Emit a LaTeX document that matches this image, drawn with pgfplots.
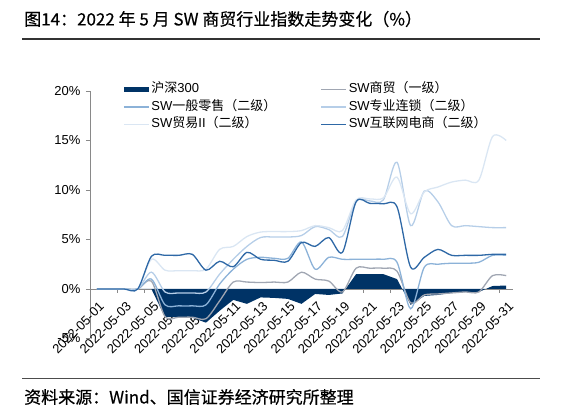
\documentclass[border=0pt]{standalone}
\usepackage{pgfplots}
\usepackage{pgfplotstable}
\pgfplotsset{compat=1.18}
\usepackage{fontspec}
\setmainfont{Liberation Sans}
\newfontfamily\cjk{Noto Sans CJK SC}
\newfontfamily\cjkh[FakeBold=0.4]{Noto Sans CJK SC}

\definecolor{hs}{RGB}{0,51,102}
\definecolor{sm}{RGB}{160,166,178}
\definecolor{yb}{RGB}{140,178,216}
\definecolor{zy}{RGB}{182,206,232}
\definecolor{my}{RGB}{218,230,243}
\definecolor{hl}{RGB}{46,104,166}
\definecolor{axg}{RGB}{137,137,137}

% cumulative change since 2022-04-29, % ; day = day of May
% hs: CSI 300, sm: SW commerce (L1), yb: general retail, zy: specialty chains,
% my: trade II, hl: internet e-commerce
\pgfplotstableread{
day hs sm yb zy my hl
1 0 0 0 0 0 0
2 0 0 0 0 0 0
3 0 0 0 0 0 0
4 0 0 0 0 0 0
5 0 0.8 1.0 1.7 3.0 3.3
6 -2.85 -2.8 -1.6 -0.3 1.9 3.4
7 -2.85 -2.85 -1.7 -0.4 1.85 3.4
8 -2.9 -2.85 -1.7 -0.4 1.85 3.5
9 -3.4 -3.0 -1.6 -0.3 2.0 1.9
10 -2.2 -1.2 0.5 1.5 4.0 2.8
11 -1.1 0.7 2.0 3.0 4.3 2.25
12 -1.5 0.7 3.0 4.3 5.3 3.7
13 -0.85 0.65 3.2 5.2 5.75 3.0
14 -0.9 0.7 3.1 5.25 5.8 2.9
15 -1.0 0.7 3.1 5.25 5.8 2.8
16 -1.5 1.7 4.75 5.4 5.9 4.7
17 -0.5 1.0 2.0 6.3 6.4 4.3
18 -0.6 0.8 3.2 6.0 6.2 5.2
19 -0.45 -0.3 3.0 5.3 5.9 3.7
20 1.5 2.1 3.0 8.9 9.0 8.8
21 1.5 2.1 3.0 8.9 9.1 8.65
22 1.5 2.1 3.0 9.0 9.2 8.6
23 1.0 1.8 2.7 12.8 11.3 8.3
24 -1.6 -1.4 -2.0 6.4 7.6 2.2
25 -0.7 -0.6 2.2 9.9 9.8 3.2
26 -0.6 -0.5 2.5 8.8 10.3 4.0
27 -0.4 -0.4 2.6 6.4 10.8 3.4
28 -0.3 -0.3 2.6 6.4 11.0 3.4
29 -0.3 -0.3 2.7 6.3 11.0 3.4
30 0.3 1.35 3.4 6.2 15.4 3.5
31 0.35 1.35 3.4 6.2 15.0 3.5
}\data

\begin{document}
\begin{tikzpicture}
\useasboundingbox (0,0) rectangle (562pt,417pt);

% heading and source line
\node[anchor=west, inner sep=0pt, font=\cjkh\fontsize{17}{20}\selectfont] at (24pt,398pt)
  {图14：2022 年 5 月 SW 商贸行业指数走势变化（\%）};
\draw[line width=1.2pt, black!80] (22pt,378pt) -- (540pt,378pt);
\draw[line width=0.8pt, black!70] (22pt,39pt) -- (540pt,39pt);
\node[anchor=west, inner sep=0pt, font=\cjkh\fontsize{17}{20}\selectfont] at (24pt,20pt)
  {资料来源：Wind、国信证券经济研究所整理};

\begin{axis}[
  at={(90pt,78.5pt)}, anchor=south west,
  scale only axis, width=423pt, height=247.5pt,
  xmin=0.5, xmax=31.5, ymin=-5, ymax=20,
  axis x line=middle, axis y line=left,
  axis line style={-, draw=axg, line width=0.8pt},
  every tick/.style={draw=axg, line width=0.8pt},
  ytick={-5,0,5,10,15,20},
  yticklabels={-5\%,0\%,5\%,10\%,15\%,20\%},
  ytick align=outside, major tick length=4pt,
  yticklabel style={font=\fontsize{13}{15}\selectfont, anchor=east, xshift=-2pt},
  xtick={1,3,...,31},
  xticklabels={2022-05-01,2022-05-03,2022-05-05,2022-05-07,2022-05-09,2022-05-11,
    2022-05-13,2022-05-15,2022-05-17,2022-05-19,2022-05-21,2022-05-23,2022-05-25,
    2022-05-27,2022-05-29,2022-05-31},
  xtick style={draw=none},
  xticklabel style={font=\fontsize{13}{15}\selectfont, rotate=45, anchor=east,
    inner sep=1pt, xshift=-5pt, yshift=-13pt},
  extra x ticks={0.5,2.5,...,30.5},
  extra x tick labels={},
  extra x tick style={xtick style={draw=axg}, tick align=outside},
  legend columns=2,
  legend cell align=left,
  legend style={draw=none, fill=none, inner sep=0pt,
    at={(axis description cs:0.078,1.04)}, anchor=north west,
    font=\fontsize{13}{15}\selectfont,
    nodes={inner sep=2pt, text height=9.5pt, text depth=3pt},
    row sep=1pt},
  legend image code/.code={\draw[#1] (0pt,0pt) -- (25pt,0pt);},
  every axis plot/.append style={line width=1.3pt},
]
\addplot[fill=hs, draw=none,
  legend image code/.code={\fill[hs] (0pt,-2.5pt) rectangle (25pt,2.5pt);}]
  table[x=day, y=hs]{\data} \closedcycle;
\addlegendentry{\makebox[167pt][l]{{\cjk 沪深}300}}
\addplot[sm, smooth, no markers] table[x=day, y=sm]{\data};
\addlegendentry{SW{\cjk 商贸（一级）}}
\addplot[yb, smooth, no markers] table[x=day, y=yb]{\data};
\addlegendentry{\makebox[167pt][l]{SW{\cjk 一般零售（二级）}}}
\addplot[zy, smooth, no markers] table[x=day, y=zy]{\data};
\addlegendentry{SW{\cjk 专业连锁（二级）}}
\addplot[my, smooth, no markers] table[x=day, y=my]{\data};
\addlegendentry{\makebox[167pt][l]{SW{\cjk 贸易}II{\cjk （二级）}}}
\addplot[hl, smooth, no markers] table[x=day, y=hl]{\data};
\addlegendentry{SW{\cjk 互联网电商（二级）}}
\end{axis}
\end{tikzpicture}
\end{document}
